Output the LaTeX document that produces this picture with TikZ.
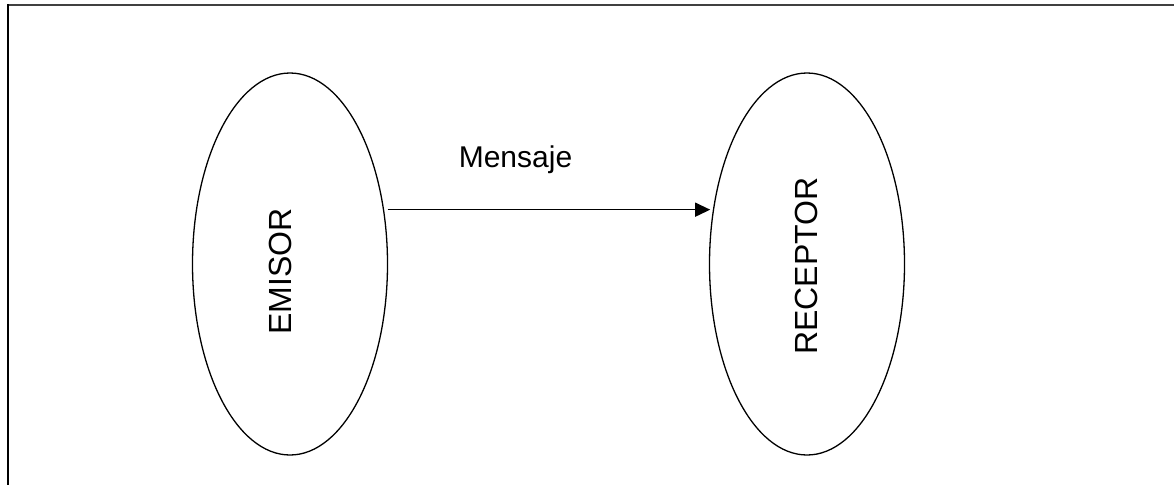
\documentclass[tikz,border=0pt]{standalone}
\usepackage{fontspec}
\setmainfont{Liberation Sans}
\usetikzlibrary{shapes.geometric,arrows.meta}
\begin{document}
\begin{tikzpicture}[x=1pt,y=-1pt,
  party/.style={ellipse, draw, line width=1.3pt, minimum width=195pt, minimum height=382pt, inner sep=0pt},
  partytext/.style={rotate=90, font=\fontsize{32}{38}\selectfont, inner sep=0pt},
  msg/.style={font=\fontsize{30}{36}\selectfont, inner sep=0pt},
  flow/.style={line width=1.3pt, -{Triangle[length=15pt,width=14pt]}}]
  \useasboundingbox (0,0) rectangle (1174,485);
  % frame edges
  \draw[line width=2pt, black!75] (7,5) -- (1174,5);
  \draw[line width=2pt] (7.8,4) -- (7.8,485);
  % sender and receiver
  \node[party] (emisor) at (290,264) {};
  \node[partytext] (emisortxt) at (280,271.5) {EMISOR};
  \node[party] (receptor) at (807,264) {};
  \node[partytext] (receptortxt) at (806.5,266) {RECEPTOR};
  % message arrow, kept horizontal
  \draw[flow, shorten <=3.5pt, shorten >=3pt] (emisor.30.5) -- (receptor.149.5 |- emisor.30.5);
  \node[msg, anchor=base] (mensaje) at (515.5,167.3) {Mensaje};
\end{tikzpicture}
\end{document}
